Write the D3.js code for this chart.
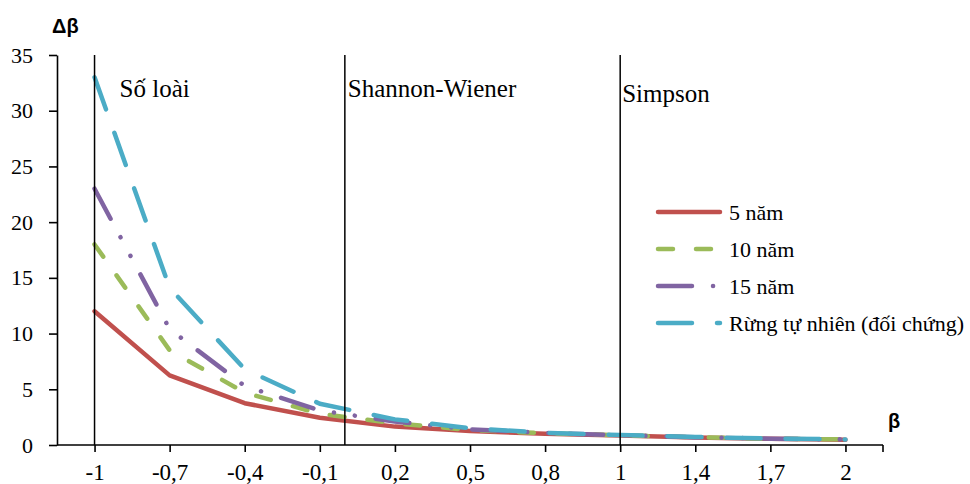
<!DOCTYPE html>
<html>
<head>
<meta charset="utf-8">
<script src="https://cdn.jsdelivr.net/npm/d3@7"></script>
<style>
  html, body { margin: 0; padding: 0; background: #fff; }
  svg { display: block; }
  text { font-family: "Liberation Serif", "Times New Roman", serif; fill: #000; }
</style>
</head>
<body>
<svg id="chart" width="970" height="484"></svg>
<script>
// β orders on the horizontal axis and their printed labels
const betaValues = [-1, -0.7, -0.4, -0.1, 0.2, 0.5, 0.8, 1, 1.4, 1.7, 2];
const betaLabels = ["-1", "-0,7", "-0,4", "-0,1", "0,2", "0,5", "0,8", "1", "1,4", "1,7", "2"];

// Δβ profiles for each stand age
const series5 = [12, 6.25, 3.75, 2.45, 1.65, 1.25, 1.0, 0.85, 0.68, 0.55, 0.48];
const series10 = [18, 8.5, 4.7, 2.8, 1.95, 1.35, 1.05, 0.88, 0.7, 0.57, 0.5];
const series15 = [23, 10.4, 5.3, 3.1, 2.1, 1.4, 1.08, 0.88, 0.7, 0.57, 0.5];
const seriesNatural = [33, 14.1, 6.8, 3.7, 2.3, 1.5, 1.1, 0.9, 0.72, 0.58, 0.5];
const seriesNames = ["5 năm", "10 năm", "15 năm", "Rừng tự nhiên (đối chứng)"];

// diversity index markers along β
const markerBetas = [-1, 0, 1];
const markerNames = ["Số loài", "Shannon-Wiener", "Simpson"];

const yTicks = [0, 5, 10, 15, 20, 25, 30, 35];

const styles = [
  { color: "#C0504D", dash: null },
  { color: "#9BBB59", dash: "15 23" },
  { color: "#8064A2", dash: "34 21 0.1 21 0.1 21" },
  { color: "#4BACC6", dash: "34 25" }
];
const allSeries = [series5, series10, series15, seriesNatural];

const svg = d3.select("#chart");
const plotLeft = 57, plotRight = 883, plotTop = 55, plotBottom = 445;

const x = d3.scalePoint().domain(betaLabels).range([plotLeft, plotRight]).padding(0.5);
const y = d3.scaleLinear().domain([0, 35]).range([plotBottom, plotTop]);

// place a β value on the categorical axis by interpolating between neighbours
function xOfBeta(b) {
  for (let i = 0; i < betaValues.length - 1; i++) {
    const a = betaValues[i], c = betaValues[i + 1];
    if (b >= a && b <= c) {
      const t = (b - a) / (c - a);
      return x(betaLabels[i]) + t * (x(betaLabels[i + 1]) - x(betaLabels[i]));
    }
  }
  return x(betaLabels[0]);
}

// y axis
const yAxis = d3.axisLeft(y).tickValues(yTicks).tickSize(8).tickSizeOuter(0).tickPadding(16);
const gy = svg.append("g").attr("transform", `translate(${plotLeft},0)`).call(yAxis);
gy.select(".domain").attr("stroke", "#000").attr("stroke-width", 1.6);
gy.selectAll(".tick line").attr("stroke", "#000").attr("stroke-width", 1.6);
gy.selectAll(".tick text")
  .style("font-family", "'Liberation Serif', serif")
  .style("font-size", "22px")
  .attr("fill", "#000");

// x axis
const xAxis = d3.axisBottom(x).tickSize(7).tickSizeOuter(0).tickPadding(12);
const gx = svg.append("g").attr("transform", `translate(0,${plotBottom})`).call(xAxis);
gx.select(".domain").remove();
gx.append("line").attr("x1", plotLeft).attr("x2", plotRight).attr("y1", 0).attr("y2", 0)
  .attr("stroke", "#000").attr("stroke-width", 1.6);
gx.append("line").attr("x1", plotRight).attr("x2", plotRight).attr("y1", 0).attr("y2", 7)
  .attr("stroke", "#000").attr("stroke-width", 1.6);
gx.selectAll(".tick line").attr("stroke", "#000").attr("stroke-width", 1.6);
gx.selectAll(".tick text")
  .style("font-family", "'Liberation Serif', serif")
  .style("font-size", "23px")
  .attr("fill", "#000");

// axis titles
svg.append("text").attr("x", 52).attr("y", 33)
  .style("font-family", "'Liberation Sans', Arial, sans-serif")
  .style("font-weight", "bold").style("font-size", "20px").text("Δβ");
svg.append("text").attr("x", 888).attr("y", 428)
  .style("font-family", "'Liberation Sans', Arial, sans-serif")
  .style("font-weight", "bold").style("font-size", "20px").text("β");

// profile lines
const line = d3.line().x((d, i) => x(betaLabels[i])).y(d => y(d));
allSeries.forEach((vals, k) => {
  svg.append("path").datum(vals)
    .attr("d", line)
    .attr("fill", "none")
    .attr("stroke", styles[k].color)
    .attr("stroke-width", 4.5)
    .attr("stroke-linecap", "round")
    .attr("stroke-linejoin", "round")
    .attr("stroke-dasharray", styles[k].dash);
});

// index markers
const markerLabelY = [97, 97, 102];
const markerLabelDx = [25, 3, 2];
markerBetas.forEach((b, i) => {
  const mx = xOfBeta(b);
  svg.append("line").attr("x1", mx).attr("x2", mx).attr("y1", plotTop).attr("y2", plotBottom)
    .attr("stroke", "#000").attr("stroke-width", 1.5);
  svg.append("text")
    .attr("x", mx + markerLabelDx[i])
    .attr("y", markerLabelY[i])
    .style("font-size", "25px")
    .text(markerNames[i]);
});

// legend
const legend = svg.append("g").attr("transform", "translate(656,212)");
seriesNames.forEach((name, k) => {
  const g = legend.append("g").attr("transform", `translate(0,${k * 37})`);
  g.append("line").attr("x1", 2).attr("x2", 64).attr("y1", 0).attr("y2", 0)
    .attr("stroke", styles[k].color)
    .attr("stroke-width", 4.5)
    .attr("stroke-linecap", "round")
    .attr("stroke-dasharray", styles[k].dash);
  g.append("text").attr("x", 73).attr("y", 7.5)
    .style("font-size", "22px").text(name);
});
</script>
</body>
</html>
